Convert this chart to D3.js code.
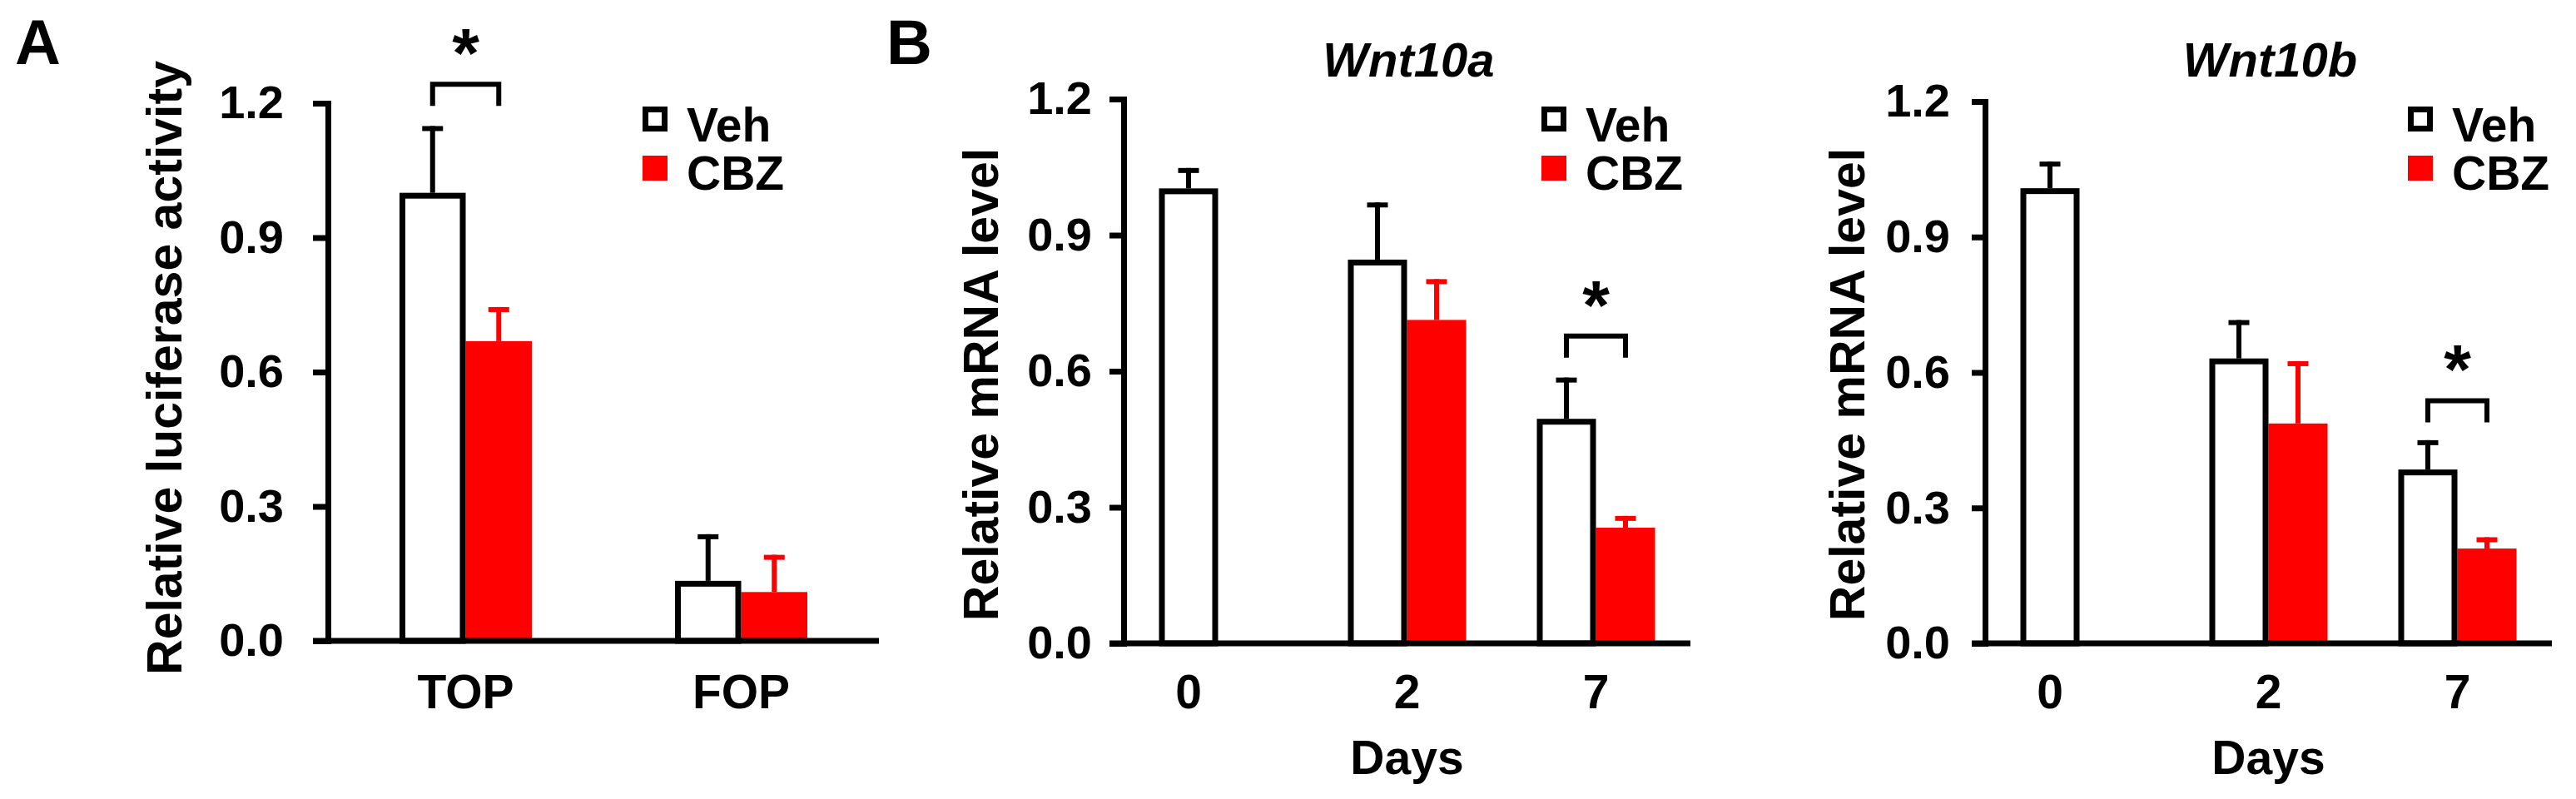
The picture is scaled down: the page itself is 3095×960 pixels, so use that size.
<!DOCTYPE html>
<html>
<head>
<meta charset="utf-8">
<script src="https://cdn.jsdelivr.net/npm/d3@7"></script>
<style>
  body { margin: 0; background: #fff; }
  svg { display: block; }
  text { font-family: "Liberation Sans", Arial, sans-serif; font-weight: bold; fill: #000; }
</style>
</head>
<body>
<svg id="fig" width="3095" height="960"></svg>
<script>
// ---- data ----
const seriesNames = ["Veh", "CBZ"];
const yTicks = [0, 0.3, 0.6, 0.9, 1.2];

// A: TOP/FOP luciferase
const luciGroups = ["TOP", "FOP"];
const luciVeh = [1.00, 0.134];
const luciVehErr = [0.149, 0.104];
const luciCbz = [0.669, 0.109];
const luciCbzErr = [0.076, 0.083];

// B: days of treatment
const dayGroups = ["0", "2", "7"];
const wnt10aVeh = [1.003, 0.846, 0.495];
const wnt10aVehErr = [0.045, 0.126, 0.091];
const wnt10aCbz = [null, 0.713, 0.255];
const wnt10aCbzErr = [null, 0.090, 0.026];

const wnt10bVeh = [1.008, 0.631, 0.385];
const wnt10bVehErr = [0.059, 0.085, 0.065];
const wnt10bCbz = [null, 0.487, 0.210];
const wnt10bCbzErr = [null, 0.138, 0.025];

// significance brackets: group + bracket height (data units)
const sigA = {group: "TOP", value: 1.248};
const sigWnt10a = {group: "7", value: 0.683};
const sigWnt10b = {group: "7", value: 0.543};

const RED = "#ff0000";

// ---- panels ----
const panels = [
  {letter: "A", letterX: 18, groups: luciGroups, veh: luciVeh, vehErr: luciVehErr, cbz: luciCbz, cbzErr: luciCbzErr,
   sig: sigA, x0: 394, x1: 1056, yTop: 124, yBase: 770, tick: 18, pad: 35, slot: 79.5,
   ytitle: "Relative luciferase activity", ytitleX: 218, ytitleY: 442, legendX: 772, title: null, xtitle: null},
  {letter: "B", letterX: 1065, groups: dayGroups, veh: wnt10aVeh, vehErr: wnt10aVehErr, cbz: wnt10aCbz, cbzErr: wnt10aCbzErr,
   sig: sigWnt10a, x0: 1350, x1: 2031, yTop: 119, yBase: 773, tick: 17, pad: 21, slot: 71,
   ytitle: "Relative mRNA level", ytitleX: 1199, ytitleY: 462, legendX: 1852, title: "Wnt10a", xtitle: "Days"},
  {letter: null, groups: dayGroups, veh: wnt10bVeh, vehErr: wnt10bVehErr, cbz: wnt10bCbz, cbzErr: wnt10bCbzErr,
   sig: sigWnt10b, x0: 2385, x1: 3066, yTop: 122, yBase: 773, tick: 16, pad: 26, slot: 71,
   ytitle: "Relative mRNA level", ytitleX: 2240, ytitleY: 462, legendX: 2893, title: "Wnt10b", xtitle: "Days"}
];

const svg = d3.select("#fig");
const SW = 7;   // bar outline / axis width
const EW = 6;   // error bar width

panels.forEach(function(p) {
  const g = svg.append("g");

  const y = d3.scaleLinear().domain([0, 1.2]).range([p.yBase, p.yTop]);
  const x = d3.scalePoint().domain(p.groups).range([p.x0, p.x1]).padding(0.5);

  // rows for drawing
  const rows = [];
  p.groups.forEach(function(grp, i) {
    const c = x(grp);
    rows.push({series: "Veh", v: p.veh[i], e: p.vehErr[i], left: c - p.slot, right: c, color: "#000"});
    if (p.cbz[i] != null)
      rows.push({series: "CBZ", v: p.cbz[i], e: p.cbzErr[i], left: c, right: c + p.slot, color: RED});
  });

  // error bars (upper only)
  const eb = g.selectAll(".err").data(rows).enter().append("g");
  eb.append("line")
    .attr("x1", d => (d.left + d.right) / 2).attr("x2", d => (d.left + d.right) / 2)
    .attr("y1", d => y(d.v)).attr("y2", d => y(d.v + d.e))
    .attr("stroke", d => d.color).attr("stroke-width", EW);
  eb.append("line")
    .attr("x1", d => (d.left + d.right) / 2 - 12.5).attr("x2", d => (d.left + d.right) / 2 + 12.5)
    .attr("y1", d => y(d.v + d.e) + EW / 2).attr("y2", d => y(d.v + d.e) + EW / 2)
    .attr("stroke", d => d.color).attr("stroke-width", EW);

  // bars
  g.selectAll(".cbz").data(rows.filter(d => d.series === "CBZ")).enter().append("rect")
    .attr("x", d => d.left).attr("width", d => d.right - d.left)
    .attr("y", d => y(d.v)).attr("height", d => p.yBase - y(d.v))
    .attr("fill", RED);
  g.selectAll(".veh").data(rows.filter(d => d.series === "Veh")).enter().append("rect")
    .attr("x", d => d.left + SW / 2).attr("width", d => d.right - d.left - SW)
    .attr("y", d => y(d.v) + SW / 2).attr("height", d => p.yBase - y(d.v) - SW / 2)
    .attr("fill", "#fff").attr("stroke", "#000").attr("stroke-width", SW);

  // y axis
  const ya = g.append("g").attr("transform", "translate(" + p.x0 + ",0)")
    .call(d3.axisLeft(y).tickValues(yTicks).tickFormat(d3.format(".1f"))
      .tickSize(p.tick).tickSizeOuter(0).tickPadding(p.pad));
  ya.select(".domain").attr("stroke", "#000").attr("stroke-width", SW).attr("stroke-linecap", "square");
  ya.selectAll(".tick line").attr("stroke", "#000").attr("stroke-width", SW);
  ya.selectAll(".tick text").attr("font-size", 56).attr("font-family", null).attr("fill", "#000");

  // x axis line
  g.append("line")
    .attr("x1", p.x0 - p.tick).attr("x2", p.x1)
    .attr("y1", p.yBase).attr("y2", p.yBase)
    .attr("stroke", "#000").attr("stroke-width", SW);

  // x category labels (under the drawn bars)
  g.selectAll(".xl").data(p.groups).enter().append("text")
    .attr("x", function(grp, i) { return p.cbz[i] == null ? x(grp) - p.slot / 2 : x(grp); })
    .attr("y", 851)
    .attr("text-anchor", "middle").attr("font-size", 57)
    .text(d => d);

  if (p.xtitle) {
    g.append("text").attr("x", (p.x0 + p.x1) / 2).attr("y", 930)
      .attr("text-anchor", "middle").attr("font-size", 57).text(p.xtitle);
  }

  // y title
  g.append("text")
    .attr("transform", "translate(" + p.ytitleX + "," + p.ytitleY + ") rotate(-90)")
    .attr("text-anchor", "middle").attr("font-size", 59)
    .text(p.ytitle);

  // panel title
  if (p.title) {
    g.append("text").attr("x", (p.x0 + p.x1) / 2 + 2).attr("y", 92)
      .attr("text-anchor", "middle").attr("font-size", 58).attr("font-style", "italic")
      .text(p.title);
  }

  // panel letter
  if (p.letter) {
    g.append("text").attr("x", p.letterX).attr("y", 77).attr("font-size", 76).text(p.letter);
  }

  // legend
  const lg = g.append("g").attr("transform", "translate(" + p.legendX + ",0)");
  seriesNames.forEach(function(s, i) {
    const top = i === 0 ? 128 : 187;
    if (s === "Veh") {
      lg.append("rect").attr("x", SW / 2).attr("y", top + SW / 2).attr("width", 30 - SW).attr("height", 30 - SW)
        .attr("fill", "#fff").attr("stroke", "#000").attr("stroke-width", SW);
    } else {
      lg.append("rect").attr("x", 0).attr("y", top).attr("width", 30).attr("height", 30).attr("fill", RED);
    }
    lg.append("text").attr("x", 53).attr("y", i === 0 ? 170 : 228).attr("font-size", 57).text(s);
  });

  // significance bracket
  const c = x(p.sig.group);
  const bl = c - p.slot / 2, br = c + p.slot / 2;
  const bt = y(p.sig.value);
  g.append("path")
    .attr("d", "M" + bl + "," + (bt + 29) + "V" + (bt + EW / 2) + "H" + br + "V" + (bt + 29))
    .attr("fill", "none").attr("stroke", "#000").attr("stroke-width", EW);
  g.append("text").attr("x", c).attr("y", bt - 5)
    .attr("text-anchor", "middle").attr("font-size", 84).text("*");
});
</script>
</body>
</html>
